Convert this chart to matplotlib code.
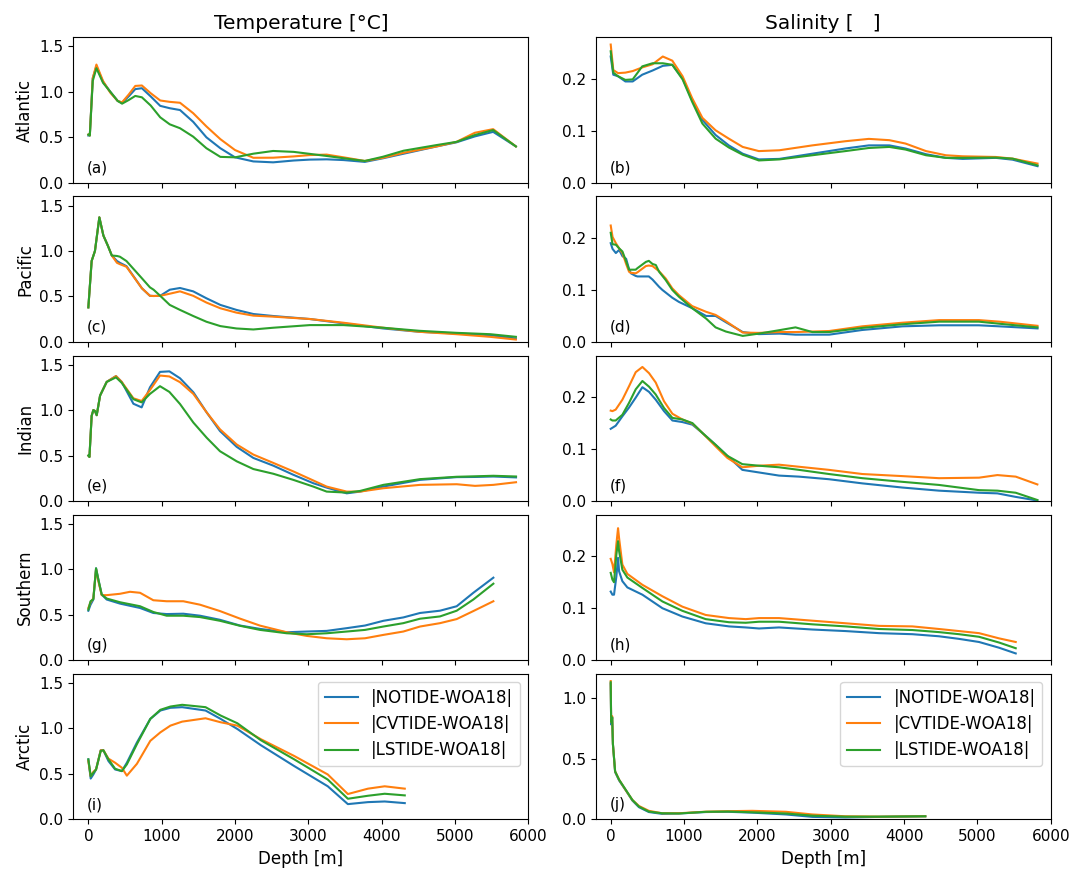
import matplotlib
matplotlib.use("Agg")
import matplotlib.pyplot as plt

series_names = ["|NOTIDE-WOA18|", "|CVTIDE-WOA18|", "|LSTIDE-WOA18|"]
regions = ["Atlantic", "Pacific", "Indian", "Southern", "Arctic"]
col_titles = ["Temperature [°C]", "Salinity [   ]"]
panel_letters = ["(a)", "(b)", "(c)", "(d)", "(e)", "(f)", "(g)", "(h)", "(i)", "(j)"]

# ---------------- (a) Temperature, Atlantic ----------------
depth_a = [0, 20, 60, 110, 200, 300, 400, 460, 550, 640, 730, 850, 980, 1110, 1250, 1430, 1610,
           1800, 2000, 2250, 2520, 2800, 3020, 3250, 3480, 3770, 4020, 4300, 4750, 5020, 5270, 5520, 5830]
notide_a = [0.52, 0.52, 1.15, 1.28, 1.11, 1.00, 0.90, 0.88, 0.95, 1.03, 1.04, 0.95, 0.846, 0.82, 0.80,
            0.67, 0.50, 0.38, 0.28, 0.235, 0.225, 0.245, 0.255, 0.258, 0.25, 0.23, 0.27, 0.32, 0.40,
            0.445, 0.51, 0.56, 0.40]
cvtide_a = [0.53, 0.52, 1.15, 1.30, 1.12, 0.99, 0.90, 0.885, 0.97, 1.065, 1.07, 0.985, 0.905, 0.89,
            0.88, 0.765, 0.62, 0.48, 0.36, 0.275, 0.276, 0.29, 0.305, 0.31, 0.28, 0.24, 0.275, 0.33,
            0.40, 0.45, 0.55, 0.59, 0.40]
lstide_a = [0.53, 0.52, 1.12, 1.26, 1.10, 1.00, 0.90, 0.87, 0.91, 0.955, 0.94, 0.85, 0.72, 0.643, 0.60,
            0.507, 0.38, 0.285, 0.28, 0.32, 0.35, 0.34, 0.318, 0.295, 0.27, 0.24, 0.287, 0.353, 0.415,
            0.45, 0.525, 0.58, 0.40]

# ---------------- (b) Salinity, Atlantic ----------------
depth_b = [0, 35, 100, 200, 300, 430, 570, 710, 840, 980, 1110, 1250, 1430, 1610, 1800, 2020, 2300,
           2750, 3200, 3520, 3800, 4020, 4300, 4570, 4800, 5250, 5480, 5820]
notide_b = [0.243, 0.208, 0.205, 0.195, 0.195, 0.208, 0.216, 0.225, 0.227, 0.201, 0.159, 0.121, 0.092,
            0.072, 0.056, 0.045, 0.046, 0.056, 0.066, 0.072, 0.072, 0.066, 0.055, 0.048, 0.046, 0.048,
            0.0445, 0.032]
cvtide_b = [0.266, 0.217, 0.211, 0.212, 0.215, 0.222, 0.228, 0.243, 0.235, 0.205, 0.163, 0.125, 0.101,
            0.085, 0.069, 0.061, 0.0626, 0.072, 0.080, 0.0845, 0.082, 0.0755, 0.061, 0.053, 0.051,
            0.0497, 0.0465, 0.037]
lstide_b = [0.253, 0.212, 0.205, 0.198, 0.199, 0.224, 0.230, 0.230, 0.227, 0.199, 0.156, 0.114, 0.085,
            0.068, 0.054, 0.043, 0.045, 0.053, 0.061, 0.067, 0.069, 0.064, 0.053, 0.048, 0.048,
            0.0485, 0.0465, 0.0335]

# ---------------- (c) Temperature, Pacific ----------------
depth_c = [0, 45, 90, 150, 205, 265, 320, 390, 430, 520, 730, 840, 890, 980, 1110, 1250, 1430, 1610,
           1800, 2020, 2250, 2520, 3020, 3480, 4020, 4520, 5020, 5480, 5830]
notide_c = [0.38, 0.89, 1.00, 1.37, 1.17, 1.06, 0.95, 0.89, 0.87, 0.833, 0.59, 0.507, 0.505, 0.507,
            0.574, 0.593, 0.556, 0.48, 0.407, 0.352, 0.307, 0.285, 0.252, 0.204, 0.148, 0.111, 0.093,
            0.074, 0.037]
cvtide_c = [0.38, 0.89, 1.00, 1.37, 1.17, 1.06, 0.95, 0.87, 0.855, 0.826, 0.59, 0.507, 0.505, 0.507,
            0.53, 0.556, 0.507, 0.433, 0.37, 0.322, 0.289, 0.278, 0.252, 0.211, 0.156, 0.111, 0.085,
            0.056, 0.026]
lstide_c = [0.38, 0.89, 1.00, 1.37, 1.17, 1.06, 0.95, 0.945, 0.937, 0.889, 0.70, 0.60, 0.574, 0.507,
            0.407, 0.352, 0.285, 0.222, 0.174, 0.148, 0.137, 0.156, 0.185, 0.185, 0.156, 0.122, 0.10,
            0.085, 0.056]

# ---------------- (d) Salinity, Pacific ----------------
depth_d = [0, 25, 70, 115, 160, 210, 250, 275, 340, 365, 480, 520, 570, 615, 660, 705, 750, 840, 930,
           1110, 1300, 1430, 1570, 1800, 2020, 2300, 2520, 2750, 2980, 3430, 3980, 4480, 5020, 5300, 5820]
notide_d = [0.19, 0.179, 0.171, 0.177, 0.165, 0.16, 0.14, 0.132, 0.127, 0.126, 0.126, 0.126, 0.12,
            0.113, 0.106, 0.10, 0.095, 0.085, 0.077, 0.065, 0.05, 0.05, 0.038, 0.019, 0.015, 0.016,
            0.014, 0.014, 0.014, 0.023, 0.03, 0.032, 0.032, 0.03, 0.026]
cvtide_d = [0.224, 0.202, 0.19, 0.18, 0.171, 0.15, 0.135, 0.133, 0.132, 0.134, 0.146, 0.147, 0.146,
            0.141, 0.136, 0.129, 0.122, 0.103, 0.09, 0.069, 0.058, 0.052, 0.04, 0.018, 0.0174, 0.019,
            0.019, 0.02, 0.021, 0.03, 0.037, 0.042, 0.042, 0.039, 0.031]
lstide_d = [0.21, 0.188, 0.187, 0.18, 0.174, 0.155, 0.139, 0.139, 0.139, 0.142, 0.154, 0.156, 0.15,
            0.148, 0.135, 0.127, 0.119, 0.10, 0.087, 0.065, 0.045, 0.028, 0.02, 0.0116, 0.016, 0.0226,
            0.028, 0.019, 0.019, 0.027, 0.034, 0.039, 0.039, 0.035, 0.028]

# ---------------- (e) Temperature, Indian ----------------
depth_e = [0, 15, 45, 68, 90, 114, 160, 250, 377, 455, 614, 727, 840, 977, 1105, 1250, 1432, 1614,
           1795, 2023, 2250, 2523, 2795, 3068, 3250, 3523, 3705, 4023, 4523, 5023, 5273, 5523, 5832]
notide_e = [0.50, 0.485, 0.937, 1.00, 0.99, 0.944, 1.16, 1.31, 1.374, 1.31, 1.07, 1.03, 1.25, 1.42,
            1.426, 1.35, 1.196, 0.974, 0.77, 0.596, 0.474, 0.389, 0.289, 0.196, 0.148, 0.085, 0.104,
            0.159, 0.233, 0.263, 0.265, 0.27, 0.26]
cvtide_e = [0.50, 0.485, 0.937, 1.00, 0.99, 0.944, 1.16, 1.31, 1.374, 1.31, 1.13, 1.10, 1.22, 1.38,
            1.37, 1.307, 1.178, 0.974, 0.789, 0.622, 0.511, 0.419, 0.326, 0.226, 0.159, 0.104, 0.104,
            0.141, 0.178, 0.185, 0.167, 0.178, 0.207]
lstide_e = [0.50, 0.485, 0.937, 1.00, 0.99, 0.944, 1.16, 1.31, 1.36, 1.30, 1.12, 1.085, 1.178, 1.263,
            1.20, 1.067, 0.863, 0.696, 0.548, 0.437, 0.352, 0.30, 0.233, 0.159, 0.104, 0.093, 0.111,
            0.178, 0.241, 0.267, 0.272, 0.278, 0.27]

# ---------------- (f) Salinity, Indian ----------------
depth_f = [0, 23, 68, 159, 250, 341, 432, 523, 614, 727, 841, 977, 1114, 1250, 1432, 1591, 1795, 2023,
           2295, 2568, 2977, 3432, 3977, 4477, 5023, 5273, 5523, 5818]
notide_f = [0.139, 0.141, 0.145, 0.163, 0.18, 0.199, 0.219, 0.21, 0.195, 0.173, 0.155, 0.152, 0.147,
            0.131, 0.108, 0.087, 0.06, 0.055, 0.049, 0.047, 0.042, 0.034, 0.026, 0.02, 0.016, 0.0148,
            0.008, 0.001]
cvtide_f = [0.174, 0.173, 0.176, 0.195, 0.221, 0.248, 0.258, 0.246, 0.228, 0.192, 0.168, 0.157, 0.149,
            0.131, 0.105, 0.083, 0.065, 0.068, 0.07, 0.066, 0.06, 0.052, 0.048, 0.044, 0.045, 0.05,
            0.047, 0.032]
lstide_f = [0.157, 0.155, 0.155, 0.166, 0.189, 0.215, 0.231, 0.22, 0.205, 0.179, 0.16, 0.157, 0.15,
            0.131, 0.108, 0.087, 0.071, 0.068, 0.065, 0.06, 0.052, 0.044, 0.037, 0.031, 0.021, 0.02,
            0.016, 0.002]

# ---------------- (g) Temperature, Southern ----------------
depth_g = [0, 30, 68, 105, 136, 182, 250, 432, 568, 705, 886, 1068, 1295, 1523, 1795, 2068, 2341, 2705,
           2977, 3250, 3523, 3773, 4023, 4295, 4523, 4795, 5023, 5250, 5523]
notide_g = [0.544, 0.61, 0.667, 1.01, 0.889, 0.722, 0.667, 0.622, 0.598, 0.574, 0.519, 0.507, 0.511,
            0.489, 0.444, 0.381, 0.344, 0.307, 0.315, 0.322, 0.352, 0.381, 0.433, 0.47, 0.519, 0.544,
            0.593, 0.741, 0.907]
cvtide_g = [0.574, 0.637, 0.68, 1.00, 0.87, 0.715, 0.715, 0.73, 0.752, 0.741, 0.659, 0.648, 0.648,
            0.61, 0.54, 0.457, 0.38, 0.307, 0.267, 0.241, 0.23, 0.241, 0.278, 0.315, 0.37, 0.407,
            0.452, 0.54, 0.648]
lstide_g = [0.556, 0.648, 0.67, 1.01, 0.889, 0.722, 0.678, 0.637, 0.615, 0.593, 0.53, 0.489, 0.489,
            0.474, 0.433, 0.378, 0.333, 0.296, 0.285, 0.296, 0.315, 0.333, 0.37, 0.407, 0.456, 0.481,
            0.544, 0.667, 0.841]

# ---------------- (h) Salinity, Southern ----------------
depth_h = [0, 23, 45, 77, 100, 114, 159, 227, 432, 705, 977, 1295, 1614, 1841, 2023, 2295, 2750, 3205,
           3659, 4114, 4477, 4750, 5023, 5295, 5523]
notide_h = [0.132, 0.126, 0.126, 0.161, 0.197, 0.171, 0.152, 0.14, 0.126, 0.10, 0.084, 0.071, 0.065,
            0.063, 0.061, 0.063, 0.059, 0.056, 0.052, 0.05, 0.046, 0.041, 0.035, 0.024, 0.013]
cvtide_h = [0.195, 0.185, 0.169, 0.223, 0.254, 0.235, 0.184, 0.166, 0.145, 0.123, 0.103, 0.087, 0.081,
            0.079, 0.081, 0.081, 0.076, 0.071, 0.066, 0.065, 0.06, 0.056, 0.052, 0.042, 0.035]
lstide_h = [0.168, 0.155, 0.15, 0.203, 0.229, 0.21, 0.174, 0.159, 0.139, 0.113, 0.095, 0.079, 0.073,
            0.072, 0.074, 0.074, 0.069, 0.065, 0.06, 0.058, 0.054, 0.05, 0.045, 0.034, 0.023]

# ---------------- (i) Temperature, Arctic ----------------
depth_i = [0, 32, 68, 105, 169, 205, 274, 365, 457, 525, 662, 845, 982, 1119, 1279, 1598, 1804, 2032,
           2352, 2808, 3265, 3539, 3813, 4041, 4315]
notide_i = [0.659, 0.448, 0.493, 0.548, 0.759, 0.759, 0.641, 0.548, 0.53, 0.622, 0.844, 1.104, 1.196,
            1.226, 1.233, 1.196, 1.104, 0.993, 0.815, 0.585, 0.363, 0.167, 0.189, 0.196, 0.178]
cvtide_i = [0.64, 0.474, 0.522, 0.548, 0.759, 0.759, 0.667, 0.622, 0.567, 0.48, 0.61, 0.863, 0.956,
            1.03, 1.074, 1.111, 1.067, 1.03, 0.881, 0.696, 0.493, 0.278, 0.337, 0.363, 0.337]
lstide_i = [0.659, 0.474, 0.511, 0.548, 0.752, 0.759, 0.659, 0.556, 0.53, 0.604, 0.826, 1.104, 1.204,
            1.24, 1.259, 1.233, 1.141, 1.056, 0.87, 0.659, 0.437, 0.226, 0.259, 0.281, 0.263]

# ---------------- (j) Salinity, Arctic ----------------
depth_j = [0, 5, 10, 20, 30, 60, 115, 205, 295, 385, 520, 700, 930, 1300, 1600, 1930, 2390, 2750, 3200,
           3660, 4290]
notide_j = [1.12, 0.85, 0.78, 0.84, 0.62, 0.39, 0.32, 0.24, 0.155, 0.10, 0.06, 0.045, 0.048, 0.06,
            0.062, 0.055, 0.04, 0.02, 0.015, 0.02, 0.025]
cvtide_j = [1.14, 0.86, 0.80, 0.85, 0.62, 0.395, 0.326, 0.24, 0.16, 0.11, 0.07, 0.05, 0.05, 0.063,
            0.067, 0.07, 0.062, 0.04, 0.025, 0.022, 0.025]
lstide_j = [1.13, 0.85, 0.80, 0.84, 0.62, 0.395, 0.326, 0.243, 0.16, 0.105, 0.064, 0.05, 0.048, 0.062,
            0.064, 0.058, 0.048, 0.03, 0.022, 0.022, 0.025]

panels = [
    (depth_a, notide_a, cvtide_a, lstide_a), (depth_b, notide_b, cvtide_b, lstide_b),
    (depth_c, notide_c, cvtide_c, lstide_c), (depth_d, notide_d, cvtide_d, lstide_d),
    (depth_e, notide_e, cvtide_e, lstide_e), (depth_f, notide_f, cvtide_f, lstide_f),
    (depth_g, notide_g, cvtide_g, lstide_g), (depth_h, notide_h, cvtide_h, lstide_h),
    (depth_i, notide_i, cvtide_i, lstide_i), (depth_j, notide_j, cvtide_j, lstide_j),
]

fig, axes = plt.subplots(5, 2, figsize=(10.75, 8.73), dpi=100, sharex=True)
fig.subplots_adjust(left=0.0682, right=0.9774, top=0.9573, bottom=0.0615, wspace=0.148, hspace=0.0935)

colors = ["C0", "C1", "C2"]
for k, (d, s1, s2, s3) in enumerate(panels):
    r, c = divmod(k, 2)
    ax = axes[r, c]
    for vals, col, name in zip((s1, s2, s3), colors, series_names):
        ax.plot(d, vals, color=col, lw=1.5, label=name)
    ax.text(0.03, 0.05, panel_letters[k], transform=ax.transAxes, fontsize=11, va="bottom", ha="left")
    ax.tick_params(labelsize=11)
    if c == 0:
        ax.set_ylim(0, 1.6)
        ax.set_yticks([0.0, 0.5, 1.0, 1.5])
        ax.set_ylabel(regions[r], fontsize=12)
    else:
        if r == 4:
            ax.set_ylim(0, 1.2)
            ax.set_yticks([0.0, 0.5, 1.0])
        else:
            ax.set_ylim(0, 0.28)
            ax.set_yticks([0.0, 0.1, 0.2])
    if r == 0:
        ax.set_title(col_titles[c], fontsize=14.5, pad=6)
    if r == 4:
        ax.set_xlabel("Depth [m]", fontsize=12)
        ax.legend(loc="upper right", fontsize=12)

axes[0, 0].set_xlim(-205, 6000)
axes[0, 0].set_xticks([0, 1000, 2000, 3000, 4000, 5000, 6000])

fig.savefig("out.png", dpi=100)
